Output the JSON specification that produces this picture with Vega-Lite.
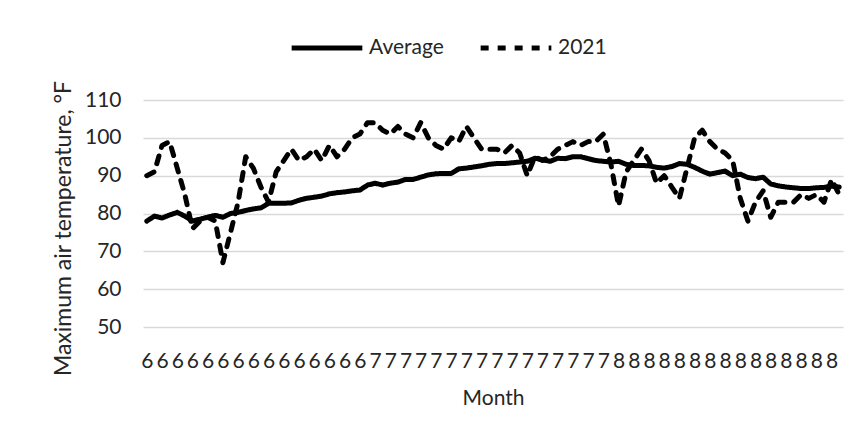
{
  "$schema": "https://vega.github.io/schema/vega-lite/v6.json",
  "width": 700,
  "height": 227,
  "autosize": "none",
  "padding": {"left": 143, "top": 100, "right": 25, "bottom": 113},
  "background": "white",
  "config": {
    "font": "Lato",
    "view": {"stroke": null},
    "axis": {"labelFont": "Lato", "titleFont": "Lato", "labelColor": "#262626", "titleColor": "#262626", "titleFontWeight": "normal", "labelFontSize": 21, "titleFontSize": 21},
    "legend": {"labelFont": "Lato", "labelColor": "#262626", "labelFontSize": 21}
  },
  "data": {"values": [
    {"date":"2021-06-01","series":"Average","temp":78},{"date":"2021-06-02","series":"Average","temp":79.3},{"date":"2021-06-03","series":"Average","temp":78.8},{"date":"2021-06-04","series":"Average","temp":79.6},{"date":"2021-06-05","series":"Average","temp":80.3},{"date":"2021-06-06","series":"Average","temp":79.3},{"date":"2021-06-07","series":"Average","temp":78},{"date":"2021-06-08","series":"Average","temp":78.5},{"date":"2021-06-09","series":"Average","temp":79},{"date":"2021-06-10","series":"Average","temp":79.5},
    {"date":"2021-06-11","series":"Average","temp":79},{"date":"2021-06-12","series":"Average","temp":80},{"date":"2021-06-13","series":"Average","temp":80.3},{"date":"2021-06-14","series":"Average","temp":80.8},{"date":"2021-06-15","series":"Average","temp":81.2},{"date":"2021-06-16","series":"Average","temp":81.5},{"date":"2021-06-17","series":"Average","temp":82.7},{"date":"2021-06-18","series":"Average","temp":82.7},{"date":"2021-06-19","series":"Average","temp":82.7},{"date":"2021-06-20","series":"Average","temp":82.8},
    {"date":"2021-06-21","series":"Average","temp":83.5},{"date":"2021-06-22","series":"Average","temp":84},{"date":"2021-06-23","series":"Average","temp":84.3},{"date":"2021-06-24","series":"Average","temp":84.6},{"date":"2021-06-25","series":"Average","temp":85.2},{"date":"2021-06-26","series":"Average","temp":85.5},{"date":"2021-06-27","series":"Average","temp":85.7},{"date":"2021-06-28","series":"Average","temp":86},{"date":"2021-06-29","series":"Average","temp":86.2},{"date":"2021-06-30","series":"Average","temp":87.5},
    {"date":"2021-07-01","series":"Average","temp":88},{"date":"2021-07-02","series":"Average","temp":87.5},{"date":"2021-07-03","series":"Average","temp":88},{"date":"2021-07-04","series":"Average","temp":88.3},{"date":"2021-07-05","series":"Average","temp":89},{"date":"2021-07-06","series":"Average","temp":89},{"date":"2021-07-07","series":"Average","temp":89.6},{"date":"2021-07-08","series":"Average","temp":90.2},{"date":"2021-07-09","series":"Average","temp":90.5},{"date":"2021-07-10","series":"Average","temp":90.6},
    {"date":"2021-07-11","series":"Average","temp":90.6},{"date":"2021-07-12","series":"Average","temp":91.8},{"date":"2021-07-13","series":"Average","temp":92},{"date":"2021-07-14","series":"Average","temp":92.3},{"date":"2021-07-15","series":"Average","temp":92.6},{"date":"2021-07-16","series":"Average","temp":93},{"date":"2021-07-17","series":"Average","temp":93.2},{"date":"2021-07-18","series":"Average","temp":93.2},{"date":"2021-07-19","series":"Average","temp":93.4},{"date":"2021-07-20","series":"Average","temp":93.6},
    {"date":"2021-07-21","series":"Average","temp":93.8},{"date":"2021-07-22","series":"Average","temp":94.6},{"date":"2021-07-23","series":"Average","temp":94.2},{"date":"2021-07-24","series":"Average","temp":93.8},{"date":"2021-07-25","series":"Average","temp":94.6},{"date":"2021-07-26","series":"Average","temp":94.5},{"date":"2021-07-27","series":"Average","temp":95},{"date":"2021-07-28","series":"Average","temp":95},{"date":"2021-07-29","series":"Average","temp":94.5},{"date":"2021-07-30","series":"Average","temp":94},
    {"date":"2021-07-31","series":"Average","temp":93.8},{"date":"2021-08-01","series":"Average","temp":93.6},{"date":"2021-08-02","series":"Average","temp":93.8},{"date":"2021-08-03","series":"Average","temp":93},{"date":"2021-08-04","series":"Average","temp":92.7},{"date":"2021-08-05","series":"Average","temp":92.7},{"date":"2021-08-06","series":"Average","temp":92.6},{"date":"2021-08-07","series":"Average","temp":92.2},{"date":"2021-08-08","series":"Average","temp":92},{"date":"2021-08-09","series":"Average","temp":92.4},
    {"date":"2021-08-10","series":"Average","temp":93.2},{"date":"2021-08-11","series":"Average","temp":93},{"date":"2021-08-12","series":"Average","temp":92.2},{"date":"2021-08-13","series":"Average","temp":91.2},{"date":"2021-08-14","series":"Average","temp":90.4},{"date":"2021-08-15","series":"Average","temp":90.8},{"date":"2021-08-16","series":"Average","temp":91.2},{"date":"2021-08-17","series":"Average","temp":90},{"date":"2021-08-18","series":"Average","temp":90.4},{"date":"2021-08-19","series":"Average","temp":89.5},
    {"date":"2021-08-20","series":"Average","temp":89.2},{"date":"2021-08-21","series":"Average","temp":89.6},{"date":"2021-08-22","series":"Average","temp":87.8},{"date":"2021-08-23","series":"Average","temp":87.3},{"date":"2021-08-24","series":"Average","temp":87},{"date":"2021-08-25","series":"Average","temp":86.8},{"date":"2021-08-26","series":"Average","temp":86.6},{"date":"2021-08-27","series":"Average","temp":86.6},{"date":"2021-08-28","series":"Average","temp":86.8},{"date":"2021-08-29","series":"Average","temp":86.9},
    {"date":"2021-08-30","series":"Average","temp":87.2},{"date":"2021-08-31","series":"Average","temp":87},
    {"date":"2021-06-01","series":"2021","temp":90},{"date":"2021-06-02","series":"2021","temp":91},{"date":"2021-06-03","series":"2021","temp":98},{"date":"2021-06-04","series":"2021","temp":99},{"date":"2021-06-05","series":"2021","temp":92},{"date":"2021-06-06","series":"2021","temp":85},{"date":"2021-06-07","series":"2021","temp":76},{"date":"2021-06-08","series":"2021","temp":78},{"date":"2021-06-09","series":"2021","temp":79},{"date":"2021-06-10","series":"2021","temp":78},
    {"date":"2021-06-11","series":"2021","temp":67},{"date":"2021-06-12","series":"2021","temp":75},{"date":"2021-06-13","series":"2021","temp":83},{"date":"2021-06-14","series":"2021","temp":95},{"date":"2021-06-15","series":"2021","temp":92},{"date":"2021-06-16","series":"2021","temp":87},{"date":"2021-06-17","series":"2021","temp":83},{"date":"2021-06-18","series":"2021","temp":91},{"date":"2021-06-19","series":"2021","temp":94},{"date":"2021-06-20","series":"2021","temp":97},
    {"date":"2021-06-21","series":"2021","temp":94},{"date":"2021-06-22","series":"2021","temp":95},{"date":"2021-06-23","series":"2021","temp":97},{"date":"2021-06-24","series":"2021","temp":94},{"date":"2021-06-25","series":"2021","temp":98},{"date":"2021-06-26","series":"2021","temp":95},{"date":"2021-06-27","series":"2021","temp":97},{"date":"2021-06-28","series":"2021","temp":100},{"date":"2021-06-29","series":"2021","temp":101},{"date":"2021-06-30","series":"2021","temp":104},
    {"date":"2021-07-01","series":"2021","temp":104},{"date":"2021-07-02","series":"2021","temp":102},{"date":"2021-07-03","series":"2021","temp":101},{"date":"2021-07-04","series":"2021","temp":103},{"date":"2021-07-05","series":"2021","temp":101},{"date":"2021-07-06","series":"2021","temp":100},{"date":"2021-07-07","series":"2021","temp":104},{"date":"2021-07-08","series":"2021","temp":100},{"date":"2021-07-09","series":"2021","temp":98},{"date":"2021-07-10","series":"2021","temp":97},
    {"date":"2021-07-11","series":"2021","temp":100},{"date":"2021-07-12","series":"2021","temp":99},{"date":"2021-07-13","series":"2021","temp":103},{"date":"2021-07-14","series":"2021","temp":100},{"date":"2021-07-15","series":"2021","temp":97},{"date":"2021-07-16","series":"2021","temp":97},{"date":"2021-07-17","series":"2021","temp":97},{"date":"2021-07-18","series":"2021","temp":96},{"date":"2021-07-19","series":"2021","temp":98},{"date":"2021-07-20","series":"2021","temp":96},
    {"date":"2021-07-21","series":"2021","temp":90},{"date":"2021-07-22","series":"2021","temp":95},{"date":"2021-07-23","series":"2021","temp":94},{"date":"2021-07-24","series":"2021","temp":95},{"date":"2021-07-25","series":"2021","temp":97},{"date":"2021-07-26","series":"2021","temp":98},{"date":"2021-07-27","series":"2021","temp":99},{"date":"2021-07-28","series":"2021","temp":98},{"date":"2021-07-29","series":"2021","temp":99},{"date":"2021-07-30","series":"2021","temp":99},
    {"date":"2021-07-31","series":"2021","temp":101},{"date":"2021-08-01","series":"2021","temp":93},{"date":"2021-08-02","series":"2021","temp":82},{"date":"2021-08-03","series":"2021","temp":91},{"date":"2021-08-04","series":"2021","temp":94},{"date":"2021-08-05","series":"2021","temp":97},{"date":"2021-08-06","series":"2021","temp":94},{"date":"2021-08-07","series":"2021","temp":88},{"date":"2021-08-08","series":"2021","temp":90},{"date":"2021-08-09","series":"2021","temp":87},
    {"date":"2021-08-10","series":"2021","temp":84},{"date":"2021-08-11","series":"2021","temp":92},{"date":"2021-08-12","series":"2021","temp":100},{"date":"2021-08-13","series":"2021","temp":102},{"date":"2021-08-14","series":"2021","temp":99},{"date":"2021-08-15","series":"2021","temp":97},{"date":"2021-08-16","series":"2021","temp":96},{"date":"2021-08-17","series":"2021","temp":94},{"date":"2021-08-18","series":"2021","temp":84},{"date":"2021-08-19","series":"2021","temp":78},
    {"date":"2021-08-20","series":"2021","temp":83},{"date":"2021-08-21","series":"2021","temp":86},{"date":"2021-08-22","series":"2021","temp":79},{"date":"2021-08-23","series":"2021","temp":83},{"date":"2021-08-24","series":"2021","temp":83},{"date":"2021-08-25","series":"2021","temp":83},{"date":"2021-08-26","series":"2021","temp":85},{"date":"2021-08-27","series":"2021","temp":84},{"date":"2021-08-28","series":"2021","temp":85},{"date":"2021-08-29","series":"2021","temp":83},
    {"date":"2021-08-30","series":"2021","temp":89},{"date":"2021-08-31","series":"2021","temp":85}
  ]},
  "mark": {"type": "line", "color": "#000000", "strokeWidth": 5, "strokeCap": "round", "strokeJoin": "round"},
  "encoding": {
    "x": {
      "field": "date", "type": "ordinal", "sort": "ascending",
      "scale": {"type": "point", "padding": 0.5},
      "axis": {
        "title": "Month", "titlePadding": 16,
        "domain": false, "ticks": false, "grid": false,
        "labelAngle": 0, "labelPadding": 23, "labelOverlap": false,
        "labelExpr": "toNumber(slice(datum.value, 5, 7))",
        "values": ["2021-06-01","2021-06-03","2021-06-05","2021-06-07","2021-06-09","2021-06-11","2021-06-13","2021-06-15","2021-06-17","2021-06-19","2021-06-21","2021-06-23","2021-06-25","2021-06-27","2021-06-29","2021-07-01","2021-07-03","2021-07-05","2021-07-07","2021-07-09","2021-07-11","2021-07-13","2021-07-15","2021-07-17","2021-07-19","2021-07-21","2021-07-23","2021-07-25","2021-07-27","2021-07-29","2021-07-31","2021-08-02","2021-08-04","2021-08-06","2021-08-08","2021-08-10","2021-08-12","2021-08-14","2021-08-16","2021-08-18","2021-08-20","2021-08-22","2021-08-24","2021-08-26","2021-08-28","2021-08-30"]
      }
    },
    "y": {
      "field": "temp", "type": "quantitative",
      "scale": {"domain": [50, 110], "nice": false, "zero": false},
      "axis": {
        "title": "Maximum air temperature, °F", "titlePadding": 9, "titleFontSize": 23, "titleY": 128,
        "values": [50, 60, 70, 80, 90, 100, 110],
        "domain": false, "ticks": false, "labelPadding": 22,
        "grid": true, "gridColor": "#d9d9d9", "gridWidth": 1.5
      }
    },
    "strokeDash": {
      "field": "series", "type": "nominal",
      "scale": {"domain": ["Average", "2021"], "range": [[1, 0], [8, 9]]},
      "legend": {
        "title": null, "orient": "none", "direction": "horizontal",
        "legendX": 146, "legendY": -90,
        "symbolType": "stroke", "symbolSize": 5000, "symbolStrokeWidth": 5,
        "symbolStrokeColor": "#000000", "labelOffset": 4, "columnPadding": 26
      }
    }
  }
}
